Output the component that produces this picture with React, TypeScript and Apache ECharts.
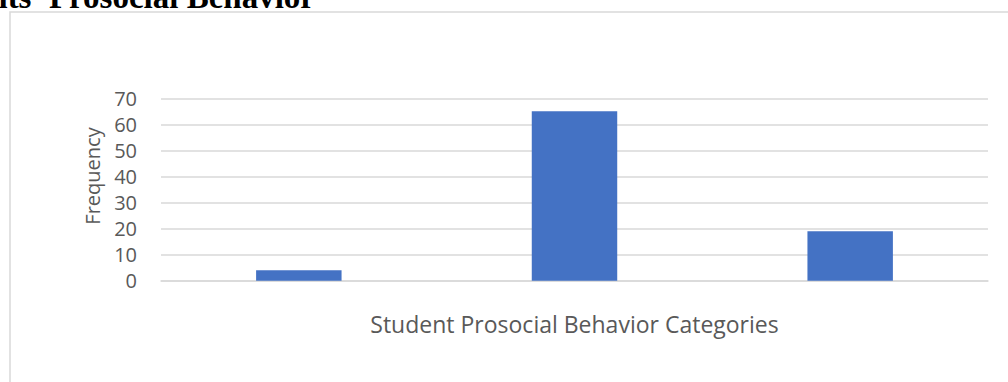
import React, { useEffect, useRef } from "react";
import * as echarts from "echarts";

const categories = ["Low", "Moderate", "High"];
const frequencies = [4, 65, 19];
const yTicks = { min: 0, max: 70, interval: 10 };
const titleText = "nts' Prosocial Behavior";
const yAxisTitle = "Frequency";
const xAxisTitle = "Student Prosocial Behavior Categories";

export default function App() {
  const ref = useRef<HTMLDivElement>(null);
  useEffect(() => {
    document.body.style.margin = "0";
    const chart = echarts.init(ref.current!, null, { renderer: "svg" });
    chart.setOption({
      animation: false,
      backgroundColor: "#ffffff",
      grid: { left: 161, right: 20, top: 98.3, bottom: 101.3 },
      xAxis: {
        type: "category",
        data: categories,
        axisLine: { lineStyle: { color: "#d9d9d9", width: 1.5 } },
        axisTick: { show: false },
        axisLabel: { show: false },
        name: xAxisTitle,
        nameLocation: "middle",
        nameGap: 32,
        nameTextStyle: { fontFamily: "Open Sans", fontSize: 23, color: "#595959" },
      },
      yAxis: {
        type: "value",
        min: yTicks.min,
        max: yTicks.max,
        interval: yTicks.interval,
        axisLine: { show: false },
        axisTick: { show: false },
        splitLine: { lineStyle: { color: "#d9d9d9", width: 1.5 } },
        axisLabel: { fontFamily: "Open Sans", fontSize: 20, color: "#595959", margin: 24 },
      },
      series: [
        {
          type: "bar",
          data: frequencies,
          barWidth: "31%",
          itemStyle: { color: "#4472C4" },
        },
      ],
      graphic: [
        {
          type: "rect",
          shape: { x: 10, y: 12, width: 1200, height: 600 },
          style: { fill: "none", stroke: "#d9d9d9", lineWidth: 1.5 },
          silent: true,
        },
        {
          type: "text",
          x: 92,
          y: 176,
          rotation: Math.PI / 2,
          style: {
            text: yAxisTitle,
            fontFamily: "Open Sans",
            fontSize: 20,
            fill: "#595959",
            textAlign: "center",
            textVerticalAlign: "middle",
          },
        },
        {
          type: "text",
          x: 315,
          y: -3,
          style: {
            text: titleText,
            fontFamily: "Liberation Serif",
            fontWeight: "bold",
            fontSize: 33,
            fill: "#000000",
            textAlign: "right",
            textVerticalAlign: "middle",
          },
        },
      ],
    });
    return () => chart.dispose();
  }, []);
  return (
    <div
      ref={ref}
      style={{ position: "fixed", left: 0, top: 0, width: 1008, height: 382 }}
    />
  );
}
